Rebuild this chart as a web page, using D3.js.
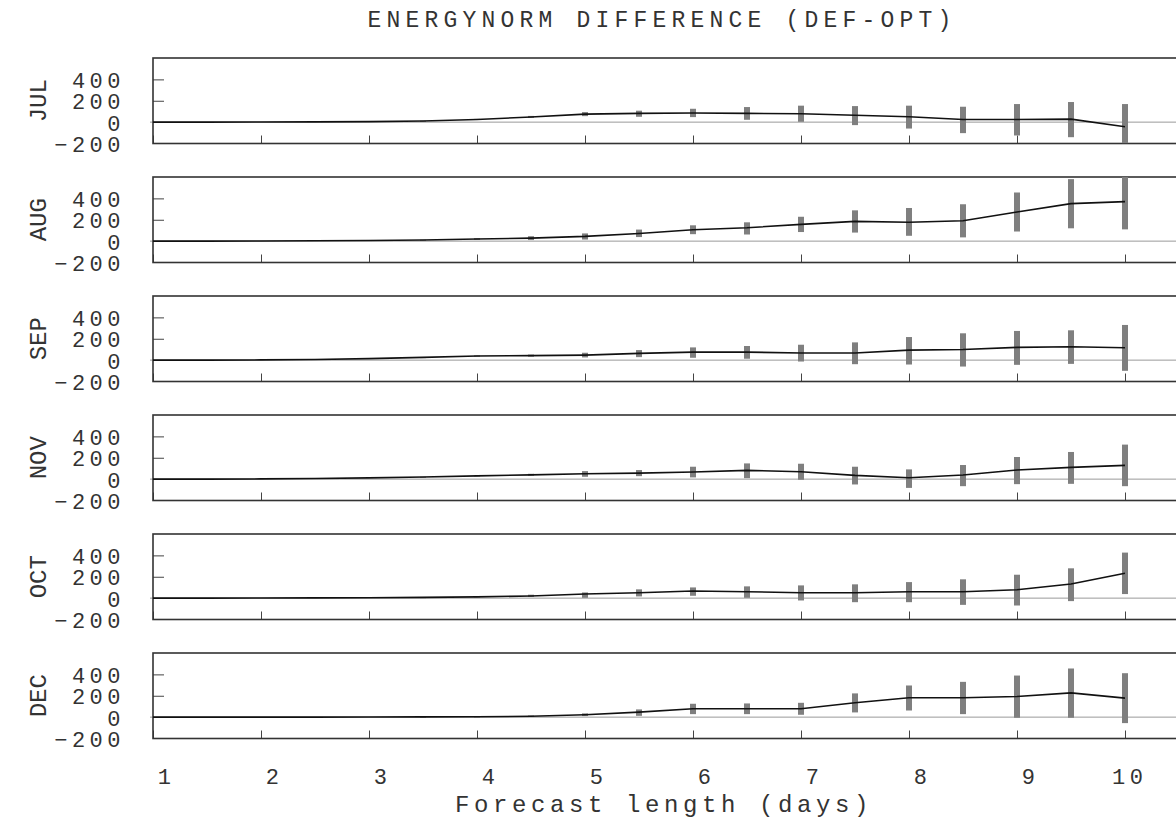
<!DOCTYPE html>
<html>
<head>
<meta charset="utf-8">
<script src="https://cdn.jsdelivr.net/npm/d3@7"></script>
<style>
  body { margin: 0; background: #fff; }
  svg text { font-family: "Liberation Mono", "Courier New", monospace; fill: #333; }
</style>
</head>
<body>
<div id="chart"></div>
<script>
const days = [1, 1.5, 2, 2.5, 3, 3.5, 4, 4.5, 5, 5.5, 6, 6.5, 7, 7.5, 8, 8.5, 9, 9.5, 10];
const months = ["JUL", "AUG", "SEP", "NOV", "OCT", "DEC"];
const xTicks = [1, 2, 3, 4, 5, 6, 7, 8, 9, 10];
const yTicks = [-200, 0, 200, 400];

const julMean = [0, 0, 1, 2, 5, 10, 25, 48, 75, 82, 85, 82, 78, 64, 50, 24, 24, 28, -44];
const julLo   = [0, 0, 1, 2, 5, 8, 20, 40, 56, 50, 47, 22, 3, -28, -60, -103, -125, -141, -198];
const julHi   = [0, 0, 1, 2, 5, 12, 30, 58, 94, 107, 125, 141, 154, 150, 154, 144, 169, 188, 169];

const augMean = [0, 0, 1, 3, 6, 10, 20, 28, 44, 72, 107, 125, 157, 185, 176, 191, 273, 351, 370];
const augLo   = [0, 0, 1, 3, 6, 7, 12, 10, 15, 38, 65, 62, 85, 80, 50, 35, 90, 120, 110];
const augHi   = [0, 0, 1, 3, 6, 13, 28, 46, 72, 108, 148, 176, 228, 288, 310, 345, 455, 580, 600];

const sepMean = [0, 0, 2, 6, 14, 26, 38, 42, 47, 63, 75, 75, 66, 66, 94, 100, 119, 125, 116];
const sepLo   = [0, 0, 2, 6, 14, 24, 32, 32, 25, 28, 22, 13, -13, -38, -41, -60, -44, -35, -100];
const sepHi   = [0, 0, 2, 6, 14, 28, 44, 52, 69, 94, 119, 132, 144, 166, 216, 251, 273, 279, 329];

const novMean = [0, 0, 2, 6, 12, 20, 30, 40, 50, 56, 66, 82, 69, 35, 13, 38, 85, 110, 129];
const novLo   = [0, 0, 2, 6, 12, 18, 26, 32, 22, 28, 16, 9, -6, -50, -82, -66, -47, -44, -66];
const novHi   = [0, 0, 2, 6, 12, 22, 34, 50, 75, 85, 116, 147, 144, 116, 91, 132, 207, 254, 323];

const octMean = [0, 0, 1, 2, 4, 7, 12, 20, 38, 50, 66, 60, 50, 50, 60, 60, 78, 132, 232];
const octLo   = [0, 0, 1, 2, 4, 5, 8, 12, 3, 16, 22, 3, -22, -38, -38, -63, -69, -28, 38];
const octHi   = [0, 0, 1, 2, 4, 9, 16, 32, 53, 82, 100, 110, 119, 129, 150, 176, 219, 279, 426];

const decMean = [0, 0, 0, 0, 1, 2, 4, 8, 22, 47, 78, 78, 78, 134, 181, 181, 193, 227, 178];
const decLo   = [0, 0, 0, 0, 1, 1, 2, 2, 10, 12, 28, 28, 22, 44, 62, 28, -6, -6, -56];
const decHi   = [0, 0, 0, 0, 1, 3, 6, 15, 35, 72, 125, 128, 134, 222, 296, 330, 389, 455, 411];

const series = [
  [julMean, julLo, julHi],
  [augMean, augLo, augHi],
  [sepMean, sepLo, sepHi],
  [novMean, novLo, novHi],
  [octMean, octLo, octHi],
  [decMean, decLo, decHi]
];

const W = 1176, H = 821;
const left = 153, right = 1180;
const panelTop = 58, panelStep = 119, panelH = 85.5;

const svg = d3.select("#chart").append("svg")
  .attr("width", W)
  .attr("height", H);

const x = d3.scaleLinear().domain([1, 10]).range([left, 1125]);

svg.append("text")
  .attr("x", 662)
  .attr("y", 27)
  .attr("text-anchor", "middle")
  .style("font-size", "23px")
  .style("letter-spacing", "5.2px")
  .text("ENERGYNORM DIFFERENCE (DEF-OPT)");

months.forEach((m, i) => {
  const top = panelTop + i * panelStep;
  const y = d3.scaleLinear().domain([-200, 600]).range([top + panelH, top]);
  const [mean, lo, hi] = series[i];
  const g = svg.append("g");

  g.append("clipPath").attr("id", "clip" + i)
    .append("rect").attr("x", left).attr("y", top).attr("width", right - left).attr("height", panelH);

  // zero line
  g.append("line")
    .attr("x1", left - 3).attr("x2", W)
    .attr("y1", y(0)).attr("y2", y(0))
    .attr("stroke", "#9a9a9a").attr("stroke-width", 1);

  // y axis
  const ya = g.append("g")
    .attr("transform", `translate(${left},0)`)
    .call(d3.axisLeft(y).tickValues(yTicks).tickSize(-11).tickPadding(28));
  ya.select(".domain").remove();
  ya.selectAll(".tick line")
    .attr("stroke", "#444")
    .attr("stroke-width", 1)
    .attr("display", d => d > 0 ? null : "none");
  ya.selectAll(".tick text")
    .attr("dy", "0.36em")
    .style("font-family", '"Liberation Mono", "Courier New", monospace')
    .style("font-size", "22px")
    .style("letter-spacing", "4.5px")
    .style("fill", "#333");

  // x axis
  const xa = g.append("g")
    .attr("transform", `translate(0,${top + panelH})`)
    .call(d3.axisBottom(x).tickValues(xTicks).tickSize(-8).tickPadding(30));
  xa.select(".domain").remove();
  xa.selectAll(".tick line").attr("stroke", "#444").attr("stroke-width", 1);
  xa.selectAll(".tick text")
    .attr("text-anchor", "end")
    .attr("x", 22)
    .style("font-family", '"Liberation Mono", "Courier New", monospace')
    .style("font-size", "22px")
    .style("letter-spacing", "4.5px")
    .style("fill", "#333")
    .attr("display", i === months.length - 1 ? null : "none");

  // frame
  g.append("rect")
    .attr("x", left).attr("y", top)
    .attr("width", right - left).attr("height", panelH)
    .attr("fill", "none").attr("stroke", "#333").attr("stroke-width", 1.6);

  const data = days.map((d, k) => ({day: d, mean: mean[k], lo: lo[k], hi: hi[k]}));

  const plot = g.append("g").attr("clip-path", `url(#clip${i})`);

  plot.selectAll(".bar")
    .data(data.filter(d => d.hi > d.lo))
    .enter()
    .append("rect")
    .attr("class", "bar")
    .attr("x", d => x(d.day) - 3)
    .attr("y", d => y(d.hi))
    .attr("width", 6)
    .attr("height", d => Math.max(1, y(d.lo) - y(d.hi)))
    .attr("fill", "#7f7f7f");

  plot.append("path")
    .datum(data)
    .attr("fill", "none")
    .attr("stroke", "#111")
    .attr("stroke-width", 1.6)
    .attr("d", d3.line().x(d => x(d.day)).y(d => y(d.mean)));

  svg.append("text")
    .attr("transform", `translate(38,${top + panelH / 2}) rotate(-90)`)
    .attr("text-anchor", "middle")
    .attr("dy", "0.35em")
    .style("font-size", "24px")
    .text(m);
});

svg.append("text")
  .attr("x", 664)
  .attr("y", 812)
  .attr("text-anchor", "middle")
  .style("font-size", "24px")
  .style("letter-spacing", "4.6px")
  .text("Forecast length (days)");
</script>
</body>
</html>
